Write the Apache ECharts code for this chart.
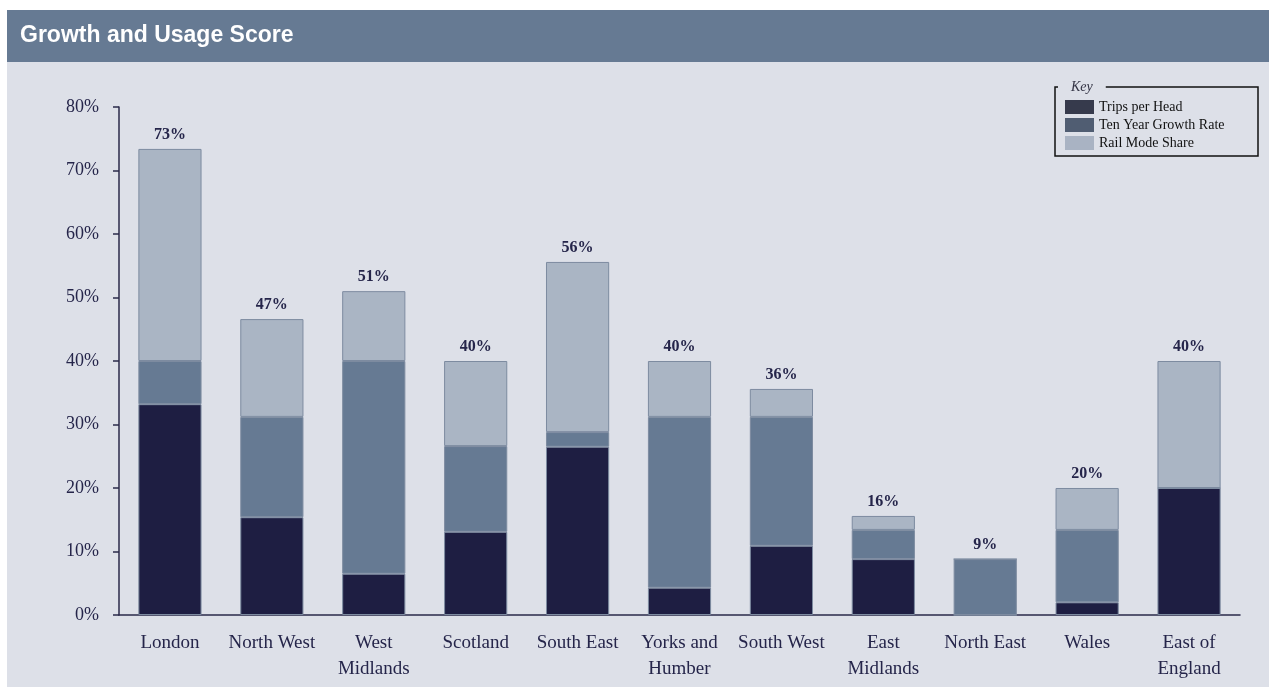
<!DOCTYPE html>
<html>
<head>
<meta charset="utf-8">
<script src="https://cdn.jsdelivr.net/npm/echarts@6/dist/echarts.min.js"></script>
<style>
  html, body { margin: 0; padding: 0; background: #ffffff; }
  #chart { width: 1276px; height: 687px; }
</style>
</head>
<body>
<div id="chart"></div>
<script>
// regions along the x axis
const regions = ['London', 'North West', 'West\nMidlands', 'Scotland', 'South East',
  'Yorks and\nHumber', 'South West', 'East\nMidlands', 'North East', 'Wales', 'East of\nEngland'];
// stacked components (percentage points)
const tripsPerHead = [33.2, 15.4, 6.5, 13.1, 26.5, 4.3, 10.9, 8.8, 0, 2.0, 20.0];
const growthRate = [6.8, 15.8, 33.5, 13.5, 2.3, 26.9, 20.3, 4.6, 8.8, 11.4, 0];
const modeShare = [33.4, 15.4, 11.0, 13.4, 26.8, 8.8, 4.4, 2.2, 0, 6.6, 20.0];

const serif = '"Liberation Serif", "DejaVu Serif", serif';
const ink = '#25254a';
const panel = '#dde0e8';

// total of the three parts, shown above each bar
const totals = regions.map((r, i) => tripsPerHead[i] + growthRate[i] + modeShare[i]);

const chart = echarts.init(document.getElementById('chart'));

const barBase = {
  type: 'bar',
  stack: 'score',
  barWidth: '62%',
  emphasis: { disabled: true }
};

chart.setOption({
  animation: false,
  backgroundColor: '#ffffff',
  graphic: [
    { type: 'rect', z: -10, shape: { x: 7, y: 10, width: 1262, height: 677 }, style: { fill: panel } },
    { type: 'rect', z: -9, shape: { x: 7, y: 10, width: 1262, height: 52 }, style: { fill: '#667a93' } },
    { type: 'text', x: 20, y: 36, style: {
        text: 'Growth and Usage Score', fill: '#ffffff', fontSize: 23, fontWeight: 'bold',
        fontFamily: '"Liberation Sans", Arial, sans-serif', verticalAlign: 'middle' } },
    // key box
    { type: 'rect', shape: { x: 1055, y: 87, width: 203, height: 69 },
      style: { fill: 'none', stroke: '#111111', lineWidth: 1.5 } },
    { type: 'text', x: 1058, y: 87, z: 10, style: {
        text: 'Key', fill: '#333344', fontSize: 14, fontStyle: 'italic', fontFamily: serif,
        verticalAlign: 'middle', backgroundColor: panel, padding: [2, 13, 2, 13] } }
  ],
  legend: {
    orient: 'vertical',
    left: 1060,
    top: 95,
    itemWidth: 29,
    itemHeight: 14,
    itemGap: 4,
    icon: 'rect',
    textStyle: { fontFamily: serif, fontSize: 14, color: '#111111' },
    data: [
      { name: 'Trips per Head', itemStyle: { color: '#363a4c', borderWidth: 0 } },
      { name: 'Ten Year Growth Rate', itemStyle: { color: '#505d72', borderWidth: 0 } },
      { name: 'Rail Mode Share', itemStyle: { color: '#a9b3c3', borderWidth: 0 } }
    ]
  },
  grid: { left: 119, right: 36, top: 107, bottom: 72 },
  xAxis: {
    type: 'category',
    data: regions,
    axisLine: { lineStyle: { color: '#2a2a4a', width: 1.5 } },
    axisTick: { length: 6, lineStyle: { color: '#2a2a4a', width: 1.5 } },
    axisLabel: { fontFamily: serif, fontSize: 19, color: ink, margin: 15, lineHeight: 26, interval: 0 }
  },
  yAxis: {
    type: 'value',
    min: 0,
    max: 80,
    interval: 10,
    axisLine: { show: true, lineStyle: { color: '#2a2a4a', width: 1.5 } },
    axisTick: { show: true, length: 6, lineStyle: { color: '#2a2a4a', width: 1.5 } },
    splitLine: { show: false },
    axisLabel: { formatter: '{value}%', fontFamily: serif, fontSize: 18, color: ink, margin: 20 }
  },
  series: [
    Object.assign({}, barBase, {
      name: 'Trips per Head',
      data: tripsPerHead,
      itemStyle: { color: '#1e1e42', borderColor: '#7d8ba0', borderWidth: 1 }
    }),
    Object.assign({}, barBase, {
      name: 'Ten Year Growth Rate',
      data: growthRate,
      itemStyle: { color: '#667a93', borderColor: '#7d8ba0', borderWidth: 1 }
    }),
    Object.assign({}, barBase, {
      name: 'Rail Mode Share',
      data: modeShare,
      itemStyle: { color: '#aab5c4', borderColor: '#7d8ba0', borderWidth: 1 },
      label: {
        show: true,
        position: 'top',
        distance: 6,
        fontFamily: serif,
        fontSize: 16,
        fontWeight: 'bold',
        color: ink,
        formatter: p => Math.round(totals[p.dataIndex]) + '%'
      }
    })
  ]
});
</script>
</body>
</html>
